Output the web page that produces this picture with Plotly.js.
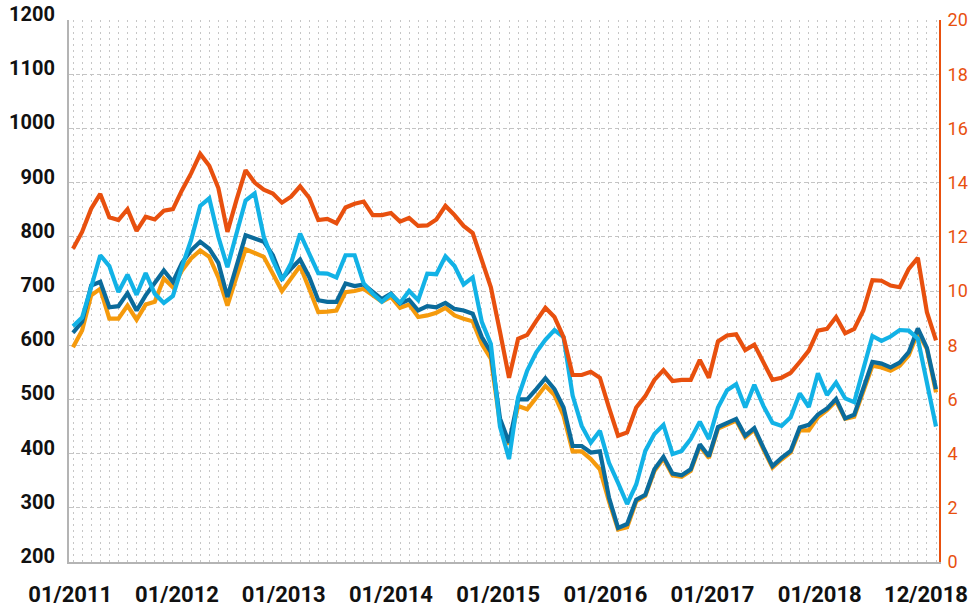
<!DOCTYPE html>
<html>
<head>
<meta charset="utf-8">
<script src="https://cdn.plot.ly/plotly-3.0.1.min.js"></script>
<style>html,body{margin:0;padding:0;background:#fff;}#chart{width:968px;height:608px;}</style>
</head>
<body>
<div id="chart"></div>
<script>
// Monthly categories 01/2011 .. 12/2018
const months = [];
for (let y = 2011; y <= 2018; y++) {
  for (let m = 1; m <= 12; m++) months.push((m < 10 ? '0' + m : '' + m) + '/' + y);
}
const xIndex = months.map((m, i) => i);

// Axis tick labels and their positions (month index units)
const xTickLabels = ['01/2011','01/2012','01/2013','01/2014','01/2015','01/2016','01/2017','01/2018','12/2018'];
const xTickPos = [-0.3, 11.45, 23.2, 35.0, 46.8, 58.6, 70.4, 82.2, 93.9];

// Right-axis series (red-orange)
const seriesRed = [
  11.56,12.18,13.04,13.58,12.72,12.62,13.02,12.22,12.74,12.64,12.96,13.02,
  13.72,14.34,15.06,14.62,13.8,12.18,13.36,14.46,14.0,13.74,13.6,13.26,
  13.48,13.86,13.44,12.62,12.66,12.5,13.08,13.22,13.3,12.8,12.8,12.88,
  12.56,12.7,12.4,12.42,12.64,13.14,12.8,12.4,12.14,11.14,10.14,8.5,
  6.8,8.24,8.38,8.9,9.38,9.04,8.3,6.9,6.9,7.02,6.8,5.7,
  4.66,4.78,5.7,6.12,6.72,7.08,6.68,6.72,6.72,7.46,6.8,8.14,
  8.36,8.4,7.82,8.02,7.38,6.72,6.8,6.98,7.38,7.8,8.54,8.6,
  9.04,8.44,8.6,9.28,10.4,10.38,10.2,10.14,10.82,11.22,9.22,8.18
];

// Left-axis series
const seriesLightBlue = [
  635,651,707,766,746,698,730,693,733,695,678,691,
  745,794,857,871,800,744,806,867,880,800,757,720,
  751,806,769,733,732,725,766,766,714,695,680,694,
  678,700,683,732,731,764,746,712,725,643,602,450,
  390,504,553,587,610,628,615,507,451,420,442,383,
  346,307,343,405,436,453,399,405,427,459,427,485,
  517,528,485,527,488,457,451,467,511,486,548,508,
  531,502,495,554,617,608,616,628,627,612,532,450
];
const seriesDarkBlue = [
  623,643,710,717,670,672,696,664,692,714,738,717,
  752,775,791,778,752,689,744,803,797,791,766,723,
  741,758,726,683,680,680,714,709,712,698,685,695,
  677,684,664,672,670,678,667,664,658,615,587,465,
  420,500,500,519,539,519,485,414,414,402,404,319,
  263,270,315,324,371,394,363,360,371,417,395,449,
  457,464,433,447,411,377,392,405,448,453,472,483,
  501,465,472,521,569,566,559,568,587,631,595,519
];
const seriesOrange = [
  596,627,692,704,649,649,673,647,675,680,723,707,
  738,760,775,763,725,673,726,777,770,763,732,700,
  723,746,704,661,662,664,698,700,704,692,680,689,
  669,675,652,655,660,669,655,649,644,602,575,456,
  417,488,482,503,525,508,470,404,404,390,371,312,
  260,264,312,322,368,391,360,357,368,414,392,446,
  454,461,430,444,408,374,389,402,443,443,467,480,
  497,464,468,516,562,559,553,562,581,624,593,513
];

const RED = '#E8500E', LBLUE = '#12B2E6', DBLUE = '#0B6B9B', ORANGE = '#F59A0C';
const FONT = 'Roboto, "DejaVu Sans", sans-serif';

function line(y, color, axis) {
  return {x: xIndex, y: y, type: 'scatter', mode: 'lines', yaxis: axis,
          line: {color: color, width: 4.2, shape: 'linear'}, hoverinfo: 'skip'};
}

const data = [
  line(seriesOrange, ORANGE, 'y'),
  line(seriesDarkBlue, DBLUE, 'y'),
  line(seriesLightBlue, LBLUE, 'y'),
  line(seriesRed, RED, 'y2')
];

const layout = {
  width: 968, height: 608,
  margin: {l: 69, r: 29, t: 20, b: 46, pad: 0},
  paper_bgcolor: '#fff', plot_bgcolor: '#fff',
  showlegend: false,
  font: {family: FONT},
  xaxis: {
    range: [-0.44, 95.33],
    tickmode: 'array', tickvals: xTickPos, ticktext: xTickLabels,
    showgrid: false, zeroline: false,
    showline: true, linecolor: '#b4b4b4', linewidth: 2,
    ticks: '', ticklabelstandoff: 12,
    tickfont: {family: FONT, size: 22, color: '#111', weight: 'bold'},
    minor: {tickmode: 'linear', tick0: 0, dtick: 1, showgrid: true,
            gridcolor: '#c6c6c6', griddash: '2px,4px', gridwidth: 1, ticks: ''}
  },
  yaxis: {
    range: [200, 1200], tickmode: 'linear', tick0: 0, dtick: 100,
    showgrid: true, gridcolor: '#c4c4c4', griddash: '4px,3px', gridwidth: 1,
    zeroline: false, showline: true, linecolor: '#b4b4b4', linewidth: 2,
    ticks: '', ticklabelstandoff: 8, ticklabelshift: -6,
    tickfont: {family: FONT, size: 20, color: '#111', weight: 'bold'}
  },
  yaxis2: {
    overlaying: 'y', side: 'right',
    range: [0, 20], tickmode: 'linear', tick0: 0, dtick: 2,
    showgrid: false, zeroline: false,
    showline: true, linecolor: RED, linewidth: 2,
    ticks: '', ticklabelstandoff: 3,
    tickfont: {family: FONT, size: 18, color: RED}
  }
};

Plotly.newPlot('chart', data, layout, {staticPlot: true, displayModeBar: false});
</script>
</body>
</html>
